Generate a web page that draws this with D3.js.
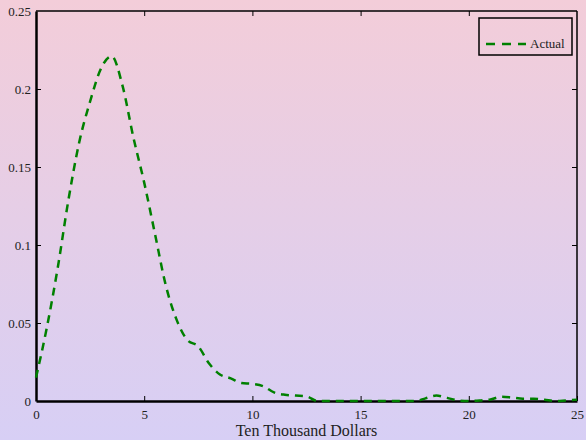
<!DOCTYPE html>
<html>
<head>
<meta charset="utf-8">
<style>
html, body { margin: 0; padding: 0; }
body { width: 586px; height: 440px; overflow: hidden; }
text { font-family: "Liberation Serif", "Times New Roman", serif; fill: #222; }
</style>
</head>
<body>
<script src="https://cdn.jsdelivr.net/npm/d3@7"></script>
<script>
var width = 586
var height = 440

// data
var income = [0, 0.5, 1, 1.5, 2, 2.5, 3, 3.5, 4, 4.5, 5, 5.5, 6, 6.5, 7, 7.5, 8, 8.5, 9, 9.5,
    10, 10.5, 11, 11.5, 12, 12.5, 13, 13.5, 14, 14.5, 15, 15.5, 16, 16.5, 17, 17.5, 18, 18.5, 19, 19.5,
    20, 20.5, 21, 21.5, 22, 22.5, 23, 23.5, 24, 24.5, 25]
var actual = [0.015, 0.047, 0.085, 0.129, 0.166, 0.192, 0.213, 0.221, 0.202, 0.169, 0.14, 0.107, 0.074, 0.052, 0.039, 0.035, 0.024, 0.017, 0.0145, 0.0115,
    0.011, 0.0095, 0.0055, 0.004, 0.0035, 0.003, 0, 0, 0, 0, 0, 0, 0, 0, 0, 0, 0.0017, 0.0035, 0.002, 0.0004,
    0, 0.0003, 0.001, 0.0027, 0.0022, 0.0015, 0.0015, 0.0008, 0, 0.0004, 0.0008]
var xTicks = [0, 5, 10, 15, 20, 25]
var yTicks = [0, 0.05, 0.1, 0.15, 0.2, 0.25]

var margin = { left: 36, right: 9, top: 11, bottom: 39 }

var svg = d3.select('body').append('svg')
    .attr('width', width)
    .attr('height', height)

var grad = svg.append('defs').append('linearGradient')
    .attr('id', 'bg')
    .attr('x1', 0).attr('y1', 0).attr('x2', 0).attr('y2', 1)
grad.append('stop').attr('offset', '0%').attr('stop-color', '#f3cdd9')
grad.append('stop').attr('offset', '100%').attr('stop-color', '#d7cff5')

svg.append('rect')
    .attr('width', width)
    .attr('height', height)
    .attr('fill', 'url(#bg)')

var x = d3.scaleLinear().domain([0, 25]).range([margin.left, width - margin.right])
var y = d3.scaleLinear().domain([0, 0.25]).range([height - margin.bottom, margin.top])

// box
svg.append('line').attr('x1', x(0)).attr('x2', x(25)).attr('y1', y(0.25)).attr('y2', y(0.25))
    .attr('stroke', '#000').attr('stroke-width', 1.5)
svg.append('line').attr('x1', x(25)).attr('x2', x(25)).attr('y1', y(0)).attr('y2', y(0.25))
    .attr('stroke', '#000').attr('stroke-width', 1.5)

// inside ticks on all four sides
svg.append('g')
    .attr('transform', 'translate(0,' + y(0) + ')')
    .call(d3.axisBottom(x).tickValues(xTicks).tickSizeInner(-5).tickSizeOuter(0).tickPadding(9).tickFormat(d3.format('')))
    .call(function (g) {
        g.select('.domain').attr('stroke-width', 2.5)
        g.selectAll('text').attr('font-size', 13).attr('fill', '#222')
    })
svg.append('g')
    .attr('transform', 'translate(0,' + y(0.25) + ')')
    .call(d3.axisTop(x).tickValues(xTicks.slice(1, -1)).tickSizeInner(-5).tickSizeOuter(0).tickFormat(''))
    .call(function (g) { g.select('.domain').remove() })
svg.append('g')
    .attr('transform', 'translate(' + x(0) + ',0)')
    .call(d3.axisLeft(y).tickValues(yTicks).tickSizeInner(-5).tickSizeOuter(0).tickPadding(5).tickFormat(d3.format('')))
    .call(function (g) {
        g.select('.domain').attr('stroke-width', 2.5)
        g.selectAll('text').attr('font-size', 13).attr('fill', '#222')
        g.selectAll('.tick line').filter(function (d) { return d === 0 || d === 0.25 }).remove()
    })
svg.append('g')
    .attr('transform', 'translate(' + x(25) + ',0)')
    .call(d3.axisRight(y).tickValues(yTicks.slice(1, -1)).tickSizeInner(-5).tickSizeOuter(0).tickFormat(''))
    .call(function (g) { g.select('.domain').remove() })

svg.selectAll('.tick text').attr('font-family', '"Liberation Serif", serif')

// curve
var line = d3.line()
    .x(function (d, i) { return x(income[i]) })
    .y(function (d) { return y(d) })
    .curve(d3.curveMonotoneX)

svg.append('path')
    .datum(actual)
    .attr('d', line)
    .attr('fill', 'none')
    .attr('stroke', '#008000')
    .attr('stroke-width', 2.5)
    .attr('stroke-dasharray', '8,6')

// axis title
svg.append('text')
    .attr('x', (x(0) + x(25)) / 2)
    .attr('y', 436)
    .attr('text-anchor', 'middle')
    .attr('font-size', 16)
    .text('Ten Thousand Dollars')

// legend
var lg = svg.append('g').attr('transform', 'translate(479,18)')
lg.append('rect')
    .attr('width', 93)
    .attr('height', 37)
    .attr('fill', 'none')
    .attr('stroke', '#000')
    .attr('stroke-width', 1.5)
lg.append('line')
    .attr('x1', 7).attr('x2', 47).attr('y1', 26).attr('y2', 26)
    .attr('stroke', '#008000')
    .attr('stroke-width', 2.5)
    .attr('stroke-dasharray', '9,7')
lg.append('text')
    .attr('x', 51)
    .attr('y', 30)
    .attr('font-size', 13)
    .text('Actual')
</script>
</body>
</html>
